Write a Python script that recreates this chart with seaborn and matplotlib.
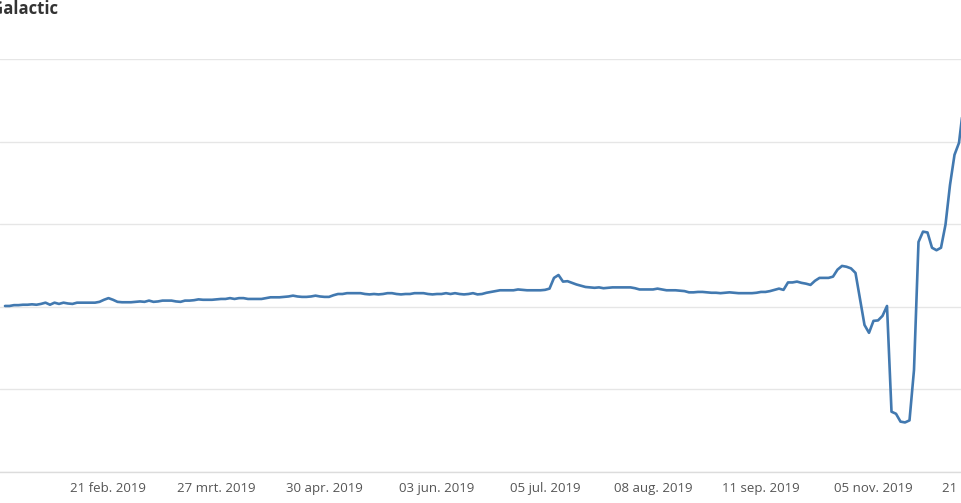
import matplotlib
matplotlib.use("Agg")
import matplotlib.pyplot as plt
import seaborn as sns
import numpy as np
import pandas as pd

# koers per handelsdag
prices = [
    10.02, 10.02, 10.04, 10.04, 10.05, 10.05, 10.06, 10.05, 10.07, 10.10,
    10.05, 10.10, 10.07, 10.10, 10.08, 10.07, 10.10, 10.10, 10.10, 10.10,
    10.10, 10.12, 10.17, 10.21, 10.17, 10.12, 10.11, 10.11, 10.11, 10.12,
    10.13, 10.12, 10.15, 10.12, 10.13, 10.15, 10.15, 10.15, 10.13, 10.12,
    10.15, 10.15, 10.16, 10.18, 10.17, 10.17, 10.17, 10.18, 10.19, 10.19,
    10.21, 10.19, 10.21, 10.21, 10.19, 10.19, 10.19, 10.19, 10.21, 10.23,
    10.23, 10.23, 10.24, 10.25, 10.27, 10.25, 10.24, 10.24, 10.25, 10.27,
    10.25, 10.24, 10.24, 10.28, 10.31, 10.31, 10.33, 10.33, 10.33, 10.33,
    10.31, 10.30, 10.31, 10.30, 10.31, 10.33, 10.33, 10.31, 10.30, 10.31,
    10.31, 10.33, 10.33, 10.33, 10.31, 10.30, 10.31, 10.31, 10.33, 10.31,
    10.33, 10.31, 10.30, 10.31, 10.33, 10.30, 10.31, 10.34, 10.36, 10.38,
    10.40, 10.40, 10.40, 10.40, 10.42, 10.41, 10.40, 10.40, 10.40, 10.40,
    10.41, 10.44, 10.70, 10.77, 10.61, 10.62, 10.58, 10.54, 10.51, 10.48,
    10.47, 10.46, 10.47, 10.45, 10.46, 10.47, 10.47, 10.47, 10.47, 10.47,
    10.45, 10.42, 10.42, 10.42, 10.42, 10.44, 10.42, 10.40, 10.40, 10.40,
    10.39, 10.38, 10.35, 10.35, 10.36, 10.36, 10.35, 10.34, 10.34, 10.33,
    10.34, 10.35, 10.34, 10.33, 10.33, 10.33, 10.33, 10.34, 10.36, 10.36,
    10.38, 10.41, 10.44, 10.41, 10.59, 10.59, 10.61, 10.58, 10.56, 10.53,
    10.63, 10.70, 10.70, 10.70, 10.73, 10.90, 10.99, 10.97, 10.93, 10.82,
    10.19, 9.56, 9.37, 9.66, 9.67, 9.78, 10.02, 7.46, 7.41, 7.22,
    7.20, 7.25, 8.47, 11.57, 11.82, 11.80, 11.43, 11.37, 11.43, 11.99,
    12.95, 13.68, 13.97, 14.89,
]

tick_idx = [23, 47, 71, 96, 120, 144, 168, 193, 217]
tick_labels = ["21 feb. 2019", "27 mrt. 2019", "30 apr. 2019", "03 jun. 2019",
               "05 jul. 2019", "08 aug. 2019", "11 sep. 2019", "05 nov. 2019",
               "21 nov. 2019"]
y_grid = [6, 8, 10, 12, 14, 16]

df = pd.DataFrame({"dag": np.arange(len(prices)), "koers": prices})

sns.set_style("white")
plt.rcParams["font.family"] = ["Open Sans", "DejaVu Sans"]

fig = plt.figure(figsize=(9.62, 5.03), dpi=100)
ax = fig.add_axes([0, 31 / 503, 1, 413 / 503])

sns.lineplot(x="dag", y="koers", data=df, ax=ax, color="#4279b0", linewidth=1.9)

ax.set_yticks(y_grid)
ax.set_yticklabels([])
ax.yaxis.grid(True, color="#e6e6e6", linewidth=1)
ax.xaxis.grid(False)
ax.set_xticks(tick_idx[:-1])
ax.set_xticklabels(tick_labels[:-1], fontsize=9.5, color="#555555")
ax.set_xlim(-5 / 4.5, 957 / 4.5)
ax.set_ylim(6, 16)
ax.tick_params(axis="x", length=0, pad=7)
ax.tick_params(axis="y", length=0)
ax.set(xlabel="", ylabel="")

# laatste label valt buiten het plotvlak (wordt door de rand afgesneden)
ax.annotate(tick_labels[-1], xy=(tick_idx[-1], 0), xycoords=("data", "axes fraction"),
            xytext=(0, -7), textcoords="offset points", ha="center", va="top",
            fontsize=9.5, color="#555555", annotation_clip=False)

for side in ["top", "left", "right"]:
    ax.spines[side].set_visible(False)
ax.spines["bottom"].set_color("#dcdcdc")
ax.spines["bottom"].set_linewidth(1)
ax.set_axisbelow(True)

fig.text(58 / 962, 1 - 13.5 / 503, "Virgin Galactic", ha="right", va="baseline",
         fontsize=12, fontweight="bold", color="#333333")

fig.savefig("out.png", dpi=100)
